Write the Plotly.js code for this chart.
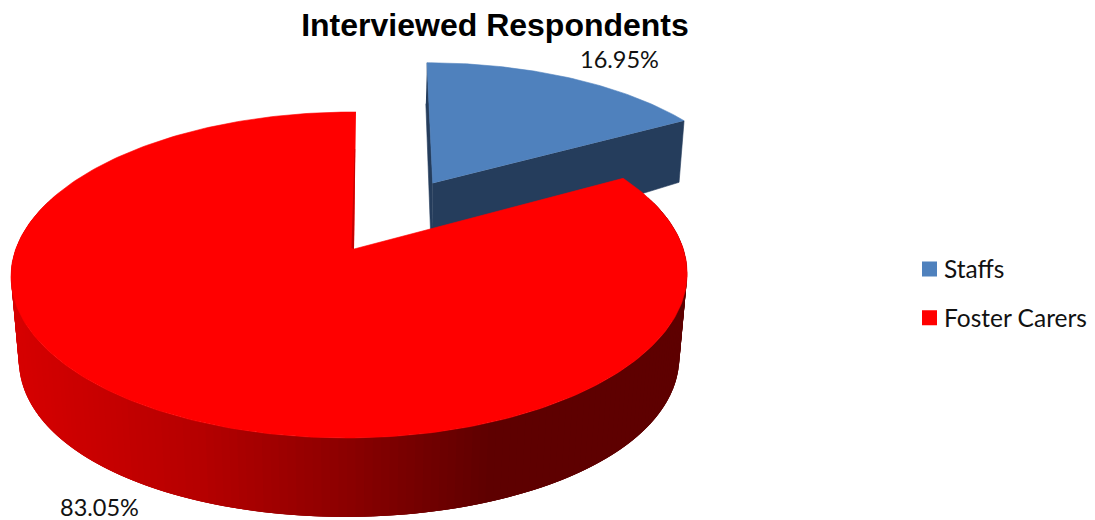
<!DOCTYPE html>
<html>
<head>
<meta charset="utf-8">
<script src="https://cdn.plot.ly/plotly-3.0.1.min.js"></script>
<style>html,body{margin:0;padding:0;background:#fff}#chart{width:1095px;height:520px}</style>
</head>
<body>
<div id="chart"></div>
<script>
// Respondent shares, in percent
const categories = ['Staffs', 'Foster Carers'];
const shares = [16.95, 83.05];
const chartTitle = 'Interviewed Respondents';

// Slice colours
const topColors = ['#4f81bd', '#ff0000'];
const blueSide = '#253d5c';
const redCut = '#c80000';

// Rim shading of the red slice, as [pixel x, red channel] stops
const rimX = [0, 20, 200, 350, 490, 1095];
const rimRed = [215, 213, 181, 138, 94, 94];

// Perspective disc: radial unit coordinates are projected onto the plot
const view = {x0: 354, y0: 249, a: 333.7, b: 158.8, k: 0.1595, m: 0.0133, shear: -2.3};
const bluePerspective = {m: 0, shear: -5.5, squeeze: 0.985};
const explodeStaffs = 0.5;

function project(X, Y, o) {
  const m = o ? o.m : view.m, shear = o ? o.shear : view.shear;
  const w = 1 - view.k * Y + m * X;
  return [view.x0 + (view.a * X + shear * Y) / w, view.y0 + view.b * Y / w];
}
// Lower edge of the disc below a point of the top face
function lower(X, Y, o) {
  const p = project(X, Y, o);
  const h = 81.7 + 9.94 * Y - 12.67 * Y * Y;
  return [350 + (p[0] - 350) * (o ? o.squeeze : 0.977), p[1] + h];
}
function polygon(points, color, edge) {
  return {
    type: 'scatter', mode: 'lines', fill: 'toself', fillcolor: color,
    x: points.map(p => p[0]), y: points.map(p => p[1]),
    line: {color: color, width: edge === undefined ? 0.6 : edge}, hoverinfo: 'skip', showlegend: false
  };
}
function rimShade(x) {
  for (let i = 1; i < rimX.length; i++) {
    if (x <= rimX[i]) {
      const t = (x - rimX[i - 1]) / (rimX[i] - rimX[i - 1]);
      return Math.round(rimRed[i - 1] + t * (rimRed[i] - rimRed[i - 1]));
    }
  }
  return rimRed[rimRed.length - 1];
}

const total = shares.reduce((s, v) => s + v, 0);
const staffsSweep = shares[0] / total * 2 * Math.PI;
const mid = staffsSweep / 2;
const ex = Math.sin(mid) * explodeStaffs - 0.0085, ey = -Math.cos(mid) * explodeStaffs - 0.012;
const unit = t => [Math.sin(t), -Math.cos(t)];

const traces = [];

// Staffs slice, pulled away from the centre: cut faces first, then its top
const corner = [ex, ey];
const s0 = unit(0), s1 = unit(staffsSweep);
const rim0 = [ex + s0[0], ey + s0[1]], rim1 = [ex + s1[0], ey + s1[1]];
const blueP = p => project(p[0], p[1], bluePerspective);
const blueL = p => lower(p[0], p[1], bluePerspective);
traces.push(polygon([blueP(rim0), blueP(corner), blueL(corner), blueL(rim0)], blueSide));
traces.push(polygon([blueP(corner), blueP(rim1), blueL(rim1), blueL(corner)], blueSide));
const blueTop = [blueP(corner)];
for (let i = 0; i <= 80; i++) {
  const u = unit(staffsSweep * i / 80);
  blueTop.push(blueP([ex + u[0], ey + u[1]]));
}
traces.push(polygon(blueTop, topColors[0]));

// Foster Carers rim: overlapping shaded bands, painted in order so no seams show
const strips = 240;
const rimAngle = i => staffsSweep + (2 * Math.PI - staffsSweep) * Math.min(i, strips) / strips;
for (let i = 0; i < strips; i++) {
  const a = unit(rimAngle(i)), b = unit(rimAngle(i + 3));
  if (a[1] < -0.3 && b[1] < -0.3) continue;
  const pa = project(...a), pb = project(...b);
  const r = rimShade((pa[0] + project(...unit(rimAngle(i + 1)))[0]) / 2);
  traces.push(polygon([pa, pb, lower(...b), lower(...a)], 'rgb(' + r + ',0,0)', 0));
}

// Foster Carers top face
const redTop = [[view.x0, view.y0]];
for (let i = 0; i <= 300; i++) {
  redTop.push(project(...unit(staffsSweep + (2 * Math.PI - staffsSweep) * i / 300)));
}
traces.push(polygon(redTop, topColors[1]));

// Thin cut face along the vertical edge of the red slice
traces.push(polygon([
  [view.x0 + 1.2, view.y0 - 100], [view.x0 + 0.6, view.y0 - 100],
  [view.x0 - 2.5, view.y0 - 1], [view.x0, view.y0]
], redCut, 0));

// Legend entries
categories.forEach((name, i) => {
  traces.push({
    type: 'scatter', mode: 'markers', x: [null], y: [null], name: name,
    legendgroup: name, hoverinfo: 'skip',
    marker: {symbol: 'square', size: 15, color: topColors[i]}
  });
});

// Percentage labels beside each slice
const labelX = [619, 99];
const labelY = [59, 507];
const labelFont = {family: 'Lato, "Open Sans", sans-serif', size: 23.5, color: '#111111'};
const annotations = shares.map((v, i) => ({
  x: labelX[i], y: labelY[i], xref: 'x', yref: 'y',
  text: v.toFixed(2) + '%', showarrow: false, xanchor: 'center', yanchor: 'middle', font: labelFont
}));

const layout = {
  width: 1095, height: 520,
  margin: {l: 0, r: 0, t: 0, b: 0},
  paper_bgcolor: '#ffffff', plot_bgcolor: '#ffffff',
  xaxis: {range: [0, 1095], visible: false, fixedrange: true},
  yaxis: {range: [520, 0], visible: false, fixedrange: true},
  title: {
    text: '<b>' + chartTitle + '</b>', x: 495 / 1095, xanchor: 'center', xref: 'paper',
    y: 1 - 25 / 520, yanchor: 'middle', yref: 'paper',
    font: {family: '"Liberation Sans", Arial, sans-serif', size: 32, color: '#000000'}
  },
  legend: {
    x: 915.5 / 1095, xanchor: 'left', y: 1 - 293.5 / 520, yanchor: 'middle', yref: 'paper',
    traceorder: 'grouped', tracegroupgap: 14, indentation: -11.5,
    bgcolor: 'rgba(0,0,0,0)',
    font: {family: 'Lato, "Open Sans", sans-serif', size: 24.5, color: '#111111'}
  },
  showlegend: true,
  annotations: annotations
};

Plotly.newPlot('chart', traces, layout, {displayModeBar: false, staticPlot: true}).then(() => {
  // Bring the legend swatches closer to their labels
  document.querySelectorAll('#chart .legendsymbols').forEach(g => {
    const current = g.getAttribute('transform') || '';
    g.setAttribute('transform', 'translate(5.5,0) ' + current);
  });
});
</script>
</body>
</html>
